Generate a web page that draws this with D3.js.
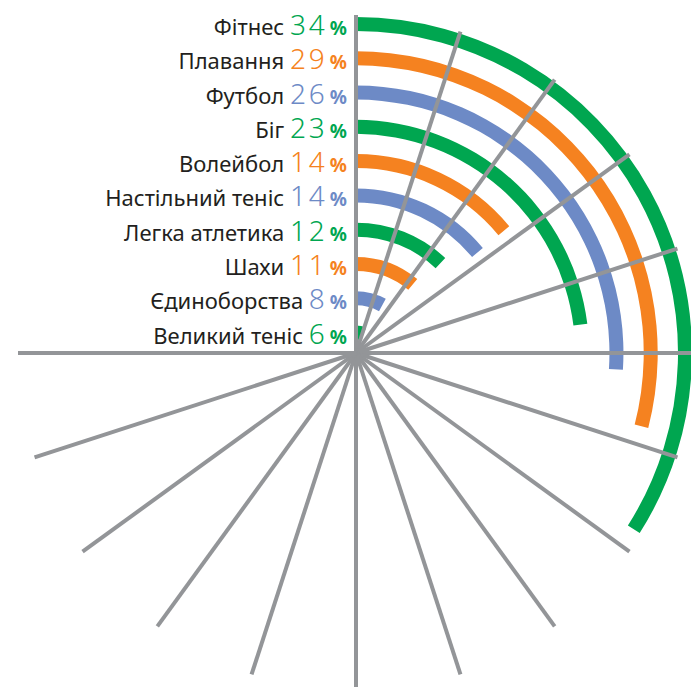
<!DOCTYPE html>
<html>
<head>
<meta charset="utf-8">
<script src="https://cdn.jsdelivr.net/npm/d3@7"></script>
<style>
  body { margin: 0; background: #fff; }
  text { font-family: "Noto Sans", "Liberation Sans", sans-serif; }
</style>
</head>
<body>
<div id="chart"></div>
<script>
var sports = ["Фітнес", "Плавання", "Футбол", "Біг", "Волейбол",
              "Настільний теніс", "Легка атлетика", "Шахи", "Єдиноборства", "Великий теніс"];
var shares = [34, 29, 26, 23, 14, 14, 12, 11, 8, 6];
var palette = ["#00a650", "#f58220", "#6d8ac6"];
var spokeTicks = [0, 5, 10, 15, 20, 25, 30, 35, 40, 45, 50, 55, 60, 65, 70, 75];

var width = 691, height = 687,
    cx = 356, cy = 353;

var data = sports.map(function(s, i) {
  return { name: s, value: shares[i], color: palette[i % 3] };
});

var svg = d3.select("#chart")
  .append("svg")
    .attr("width", width)
    .attr("height", height)
  .append("g")
    .attr("transform", "translate(" + cx + "," + cy + ")");

// percent -> angle, full circle = 100%
var angle = d3.scaleLinear()
  .domain([0, 100])
  .range([0, 2 * Math.PI]);

// one ring per sport, outermost first
var radius = d3.scalePoint()
  .domain(sports)
  .range([329, 20.5]);

var barWidth = 14;

var arc = d3.arc()
  .innerRadius(function(d) { return radius(d.name) - barWidth / 2; })
  .outerRadius(function(d) { return radius(d.name) + barWidth / 2; })
  .startAngle(0)
  .endAngle(function(d) { return angle(d.value); });

svg.selectAll(".bar")
  .data(data)
  .enter()
  .append("path")
    .attr("class", "bar")
    .attr("d", arc)
    .attr("fill", function(d) { return d.color; });

// grey spokes on top of the bars
svg.selectAll(".spoke")
  .data(spokeTicks)
  .enter()
  .append("line")
    .attr("class", "spoke")
    .attr("x1", 0)
    .attr("y1", 0)
    .attr("x2", function(d) { return 338 * Math.sin(angle(d)); })
    .attr("y2", function(d) { return -338 * Math.cos(angle(d)); })
    .attr("stroke", "#939598")
    .attr("stroke-width", 4);

// labels
var label = svg.selectAll(".label")
  .data(data)
  .enter()
  .append("text")
    .attr("class", "label")
    .attr("x", -9)
    .attr("y", function(d) { return -radius(d.name) + 11; })
    .attr("text-anchor", "end");

label.append("tspan")
  .attr("fill", "#231f20")
  .style("font-size", "22px")
  .text(function(d) { return d.name + " "; });

label.append("tspan")
  .attr("fill", function(d) { return d.color; })
  .style("font-size", "28px")
  .style("font-weight", 300)
  .style("letter-spacing", "3px")
  .text(function(d) { return d.value; });

label.append("tspan")
  .attr("fill", function(d) { return d.color; })
  .style("font-size", "19px")
  .style("font-weight", "bold")
  .attr("dx", 2)
  .text("%");
</script>
</body>
</html>
